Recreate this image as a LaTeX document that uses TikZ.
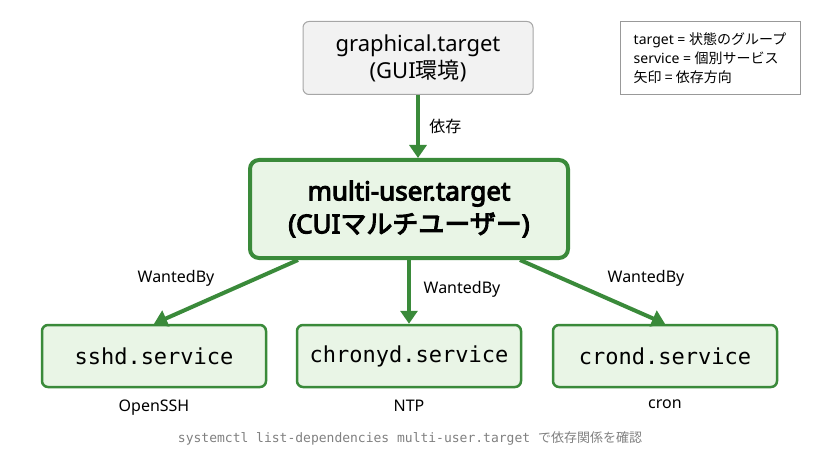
\documentclass[tikz,border=0pt]{standalone}
\usepackage{fontspec}
\setmainfont{Noto Sans}[BoldFont={Noto Sans},BoldFeatures={FakeBold=4}]
\setmonofont{DejaVu Sans Mono}
\newfontfamily\cjk{Noto Sans CJK JP}[BoldFont={Noto Sans CJK JP},BoldFeatures={FakeBold=4}]
\usetikzlibrary{arrows.meta,positioning}
\definecolor{depgreen}{HTML}{3A8A3A}
\definecolor{palegreen}{HTML}{E9F5E6}
\definecolor{palegray}{HTML}{F2F2F2}
\tikzset{
  unit/.style={draw=depgreen, fill=palegreen, rounded corners=6pt, line width=2.5pt, minimum height=62pt, minimum width=224pt, font=\ttfamily\fontsize{22}{26}\selectfont},
  dep/.style={depgreen, line width=4pt, -{Triangle[length=13pt,width=17pt]}},
  lbl/.style={font=\fontsize{16}{19}\selectfont}
}
\begin{document}
\begin{tikzpicture}[x=1pt,y=-1pt]
\useasboundingbox (0,0) rectangle (819,457);
% targets
\node[draw=gray!70, fill=palegray, rounded corners=6pt, line width=1pt, minimum width=230pt, minimum height=73pt, align=center, font=\fontsize{22}{27}\selectfont] (gui) at (418,58) {graphical.target\\({GUI}{\cjk 環境})};
\node[draw=depgreen, fill=palegreen, rounded corners=9pt, line width=4pt, minimum width=318pt, minimum height=98pt, align=center, font=\bfseries\fontsize{26}{33}\selectfont] (multi) at (409,209) {multi-user.target\\(CUI{\cjk\bfseries マルチユーザー})};
% services
\node[unit] (sshd) at (154,356) {sshd.service};
\node[unit] (chrony) at (409,356) {chronyd.service};
\node[unit] (crond) at (665,356) {crond.service};
\node[lbl, below=8pt of sshd] (ssh) {OpenSSH};
\node[lbl, below=8pt of chrony] (ntp) {NTP};
\node[lbl, below=8pt of crond] (cron) {cron};
% legend
\node[draw=gray!80, line width=0.8pt, minimum width=180pt, minimum height=73pt, align=left, font=\fontsize{14}{19}\selectfont] (legend) at (710,58) {target = {\cjk 状態のグループ}\\service = {\cjk 個別サービス}\\{\cjk 矢印 = 依存方向}};
% dependencies
\draw[dep] (gui.south) -- node[right=6pt, lbl, text=black] {\cjk 依存} (gui.south |- multi.north);
\draw[dep] (multi.south west) ++(50pt,0) coordinate (m1) -- (sshd.north);
\draw[dep] (multi.south) -- (chrony.north);
\draw[dep] (multi.south east) ++(-50pt,0) coordinate (m3) -- (crond.north);
\node[lbl] (w1) at (176,278) {WantedBy};
\node[lbl] (w2) at (462,289) {WantedBy};
\node[lbl] (w3) at (646,278) {WantedBy};
\node[text=gray, font=\fontsize{13}{16}\selectfont] (cmd) at (410,438) {\ttfamily systemctl list-dependencies multi-user.target {\cjk で依存関係を確認}};
\end{tikzpicture}
\end{document}
